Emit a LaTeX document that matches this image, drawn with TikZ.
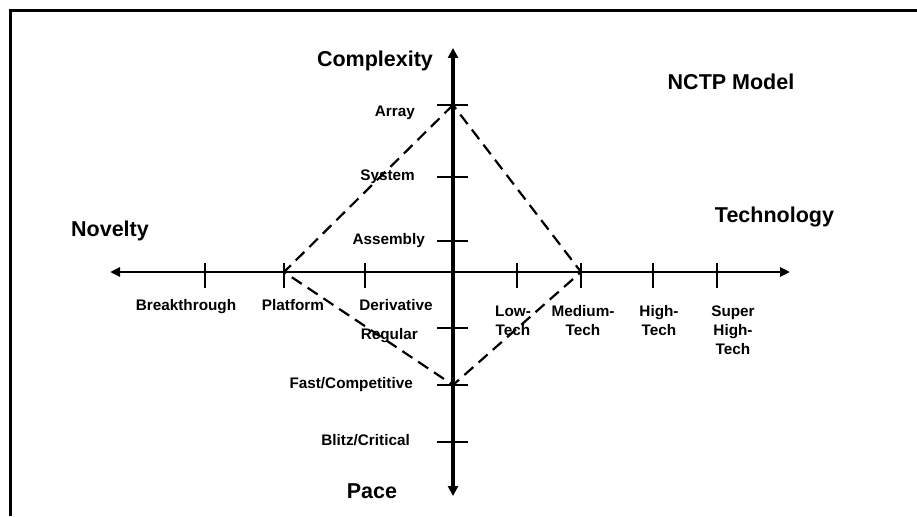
\documentclass[tikz,border=0pt]{standalone}
\usepackage{fontspec}
\setmainfont{Liberation Sans}
\usetikzlibrary{arrows.meta}

\begin{document}
\begin{tikzpicture}[x=1pt,y=-1pt,
  bigtext/.style={font=\fontsize{21.5}{24}\selectfont\bfseries, inner sep=0pt},
  smalltext/.style={font=\fontsize{15.3}{19}\selectfont\bfseries, inner sep=0pt, align=center},
  hbar/.style={line width=2.5pt, {Triangle[length=10pt,width=9pt]}-{Triangle[length=10pt,width=9pt]}},
  vbar/.style={line width=3.5pt, {Triangle[length=10pt,width=10pt]}-{Triangle[length=10pt,width=10pt]}},
  tickmark/.style={line width=2pt},
  profile/.style={line width=2.2pt, dash pattern=on 12pt off 7pt}]

\useasboundingbox (0,0) rectangle (917,516);

% frame
\draw[line width=3pt] (917,11) -- (10,11) -- (10,516);

% axis end points
\coordinate (west) at (110,272);
\coordinate (east) at (790,272);
\coordinate (north) at (453,48);
\coordinate (south) at (453,496);

% axes
\draw[hbar] (west) -- (east);
\draw[vbar] (south) -- (north);

% ticks on the horizontal axis
\foreach \name/\xx in {brk/205, plt/284, der/365, low/517, med/581, hig/653, sup/717}{
  \coordinate (\name) at (\xx,272);
  \draw[tickmark] (\xx,263) -- (\xx,288);
}

% ticks on the vertical axis
\foreach \name/\yy in {arr/105, sys/177, asm/241, reg/328, fst/385, blz/442}{
  \coordinate (\name) at (453,\yy);
  \draw[tickmark] (437,\yy) -- (468,\yy);
}

% project profile
\draw[profile] (arr) -- (plt) -- (fst) -- (med) -- cycle;

% axis titles
\node[bigtext] (tcomplexity) at (375,61) {Complexity};
\node[bigtext] (tnovelty) at (110,231) {Novelty};
\node[bigtext] (ttechnology) at (774.5,217) {Technology};
\node[bigtext] (tpace) at (372,491) {Pace};
\node[bigtext] (tmodel) at (731,81.5) {NCTP Model};

% complexity and pace levels
\node[smalltext, anchor=east] (larr) at (415,113) {Array};
\node[smalltext, anchor=east] (lsys) at (415,177) {System};
\node[smalltext, anchor=east] (lasm) at (425,241) {Assembly};
\node[smalltext, anchor=east] (lreg) at (418,336) {Regular};
\node[smalltext, anchor=east] (lfst) at (413,385) {Fast/Competitive};
\node[smalltext, anchor=east] (lblz) at (410,440) {Blitz/Critical};

% novelty levels
\node[smalltext, anchor=north] (lbrk) at (186,299) {Breakthrough};
\node[smalltext, anchor=north] (lplt) at (293,299) {Platform};
\node[smalltext, anchor=north] (lder) at (396,299) {Derivative};

% technology levels
\node[smalltext, anchor=north] (llow) at (513,305.5) {Low-\\Tech};
\node[smalltext, anchor=north] (lmed) at (583,305.5) {Medium-\\Tech};
\node[smalltext, anchor=north] (lhig) at (659,305.5) {High-\\Tech};
\node[smalltext, anchor=north] (lsup) at (733,305.5) {Super\\High-\\Tech};

\end{tikzpicture}
\end{document}
